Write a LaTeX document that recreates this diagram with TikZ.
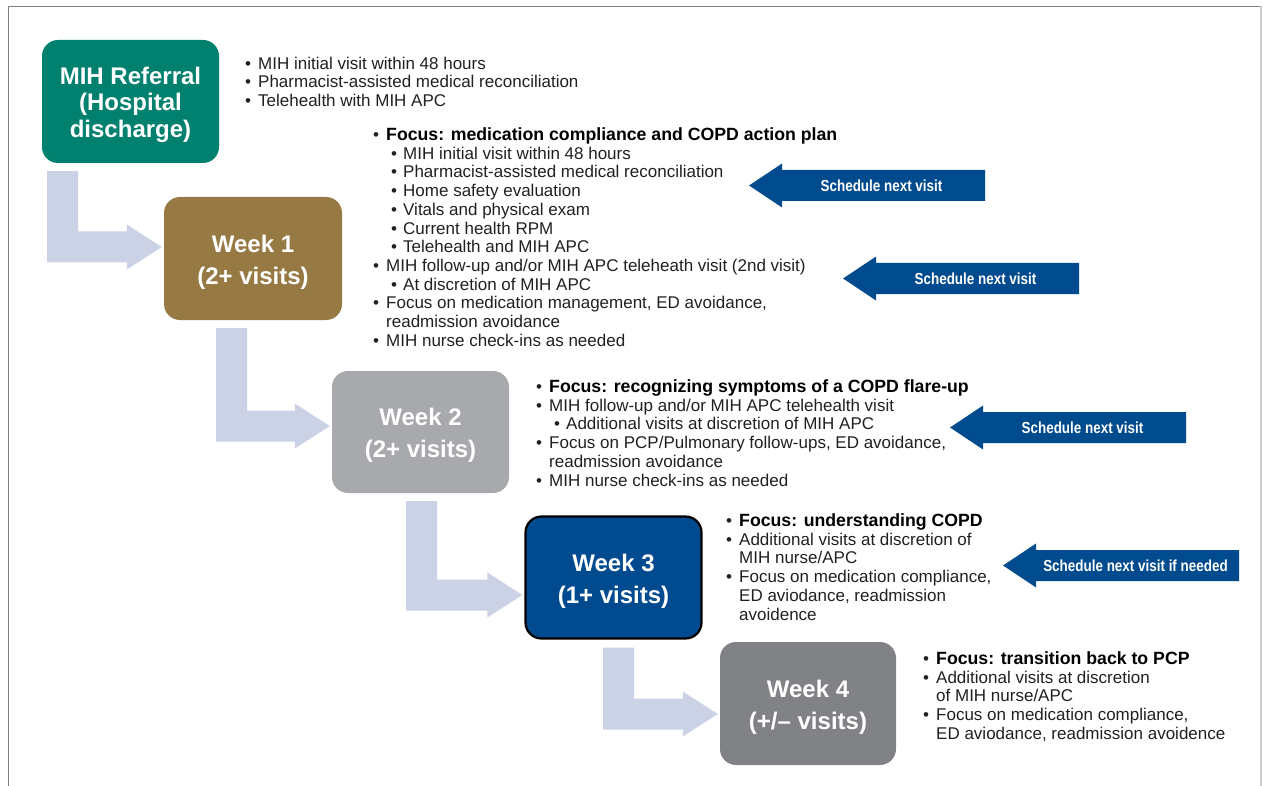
\documentclass[tikz,border=0pt]{standalone}
\usepackage{fontspec}
\setmainfont{Liberation Sans}
\usetikzlibrary{calc}

\definecolor{refteal}{HTML}{00806F}
\definecolor{wkbrown}{HTML}{977A43}
\definecolor{wklight}{HTML}{A7A9AC}
\definecolor{wknavy}{HTML}{004A8F}
\definecolor{wkdark}{HTML}{808285}
\definecolor{flowblue}{HTML}{CBD2E6}
\definecolor{nextblue}{HTML}{004B8D}
\definecolor{bodytext}{HTML}{231F20}

\newcommand{\bul}{\makebox[13pt][l]{\textbullet}}
\newcommand{\subbul}{\hspace*{18pt}\makebox[12pt][l]{\textbullet}}
\newcommand{\ind}{\hspace*{13pt}}
\newcommand{\focus}[1]{\textcolor{black}{\fontsize{17.7}{18.7}\selectfont\bfseries #1}}
\newcommand{\titlestrut}{\rule{0pt}{24pt}}

% L-shaped flow arrow: #1 from box, #2 to box, #3 bar left x, #4 tip y
\newcommand{\flowarrow}[4]{%
  \fill[flowblue] let \p1=(#1.south), \p2=(#2.west), \p3=(#3,#4) in
    (\x3,\y1-8pt) -- (\x3+31pt,\y1-8pt) -- (\x3+31pt,\y3+15.5pt)
    -- (\x2-37pt,\y3+15.5pt) -- (\x2-37pt,\y3+22.5pt) -- (\x2-2pt,\y3)
    -- (\x2-37pt,\y3-22.5pt) -- (\x2-37pt,\y3-15.5pt) -- (\x3,\y3-15.5pt) -- cycle;}

% blue "schedule" arrow: #1 name, #2 body left x, #3 y, #4 text
\newcommand{\nextvisit}[4]{%
  \fill[nextblue] ({#2-33},#3) -- (#2,{#3-22}) -- (#2,{#3-15.5}) -- ({#2+203},{#3-15.5})
    -- ({#2+203},{#3+15.5}) -- (#2,{#3+15.5}) -- (#2,{#3+22}) -- cycle;
  \node[nextlbl] (#1) at ({#2+99.5},#3) {\scalebox{0.84}[1]{#4}};}

\begin{document}
\begin{tikzpicture}[x=1pt, y=-1pt,
    stage/.style={rounded corners=16pt, minimum width=177pt, minimum height=123pt, inner sep=0pt,
      align=center, text=white, font=\fontsize{24}{32}\selectfont\bfseries},
    notes/.style={anchor=north west, inner sep=0pt, align=left, text=bodytext,
      font=\fontsize{17}{18.7}\selectfont},
    nextlbl/.style={inner sep=0pt, text=white, font=\fontsize{16}{16}\selectfont\bfseries}]
  \useasboundingbox (0,0) rectangle (1263,786);

  % 1. frame
  \draw[gray, line width=1.5pt] (8.3,786) -- (8.3,6.5) -- (1261,6.5);
  \draw[gray!40, line width=1.2pt] (1261,6.5) -- (1261,786);

  % 2. stage boxes
  \node[stage, fill=refteal, font=\fontsize{24}{26.5}\selectfont\bfseries] (ref) at (130.5,101.5) {\titlestrut MIH Referral\\(Hospital\\discharge)};
  \node[stage, fill=wkbrown, minimum width=178pt] (wk1) at (253,258.5) {\titlestrut Week 1\\(2+ visits)};
  \node[stage, fill=wklight, minimum height=122pt] (wk2) at (420.5,432) {\titlestrut Week 2\\(2+ visits)};
  \node[stage, fill=wknavy, draw=black, line width=2.2pt, minimum width=176pt, minimum height=122pt] (wk3) at (613.5,577.5) {\titlestrut Week 3\\(1+ visits)};
  \node[stage, fill=wkdark, minimum width=176pt] (wk4) at (808,703.5) {\titlestrut Week 4\\(+/\textendash{} visits)};

  % 3. flow arrows between stages
  \flowarrow{ref}{wk1}{47}{247}
  \flowarrow{wk1}{wk2}{216}{426}
  \flowarrow{wk2}{wk3}{406}{595}
  \flowarrow{wk3}{wk4}{603}{714}

  % 4. notes beside each stage
  \node[notes] (n0) at (245,56.5) {\bul MIH initial visit within 48 hours\\
    \bul Pharmacist-assisted medical reconciliation\\
    \bul Telehealth with MIH APC};
  \node[notes] (n1) at (373,127.5) {\bul\focus{Focus: medication compliance and COPD action plan}\\
    \subbul MIH initial visit within 48 hours\\
    \subbul Pharmacist-assisted medical reconciliation\\
    \subbul Home safety evaluation\\
    \subbul Vitals and physical exam\\
    \subbul Current health RPM\\
    \subbul Telehealth and MIH APC\\
    \bul MIH follow-up and/or MIH APC teleheath visit (2nd visit)\\
    \subbul At discretion of MIH APC\\
    \bul Focus on medication management, ED avoidance,\\
    \ind readmission avoidance\\
    \bul MIH nurse check-ins as needed};
  \node[notes] (n2) at (536,379.5) {\bul\focus{Focus: recognizing symptoms of a COPD flare-up}\\
    \bul MIH follow-up and/or MIH APC telehealth visit\\
    \subbul Additional visits at discretion of MIH APC\\
    \bul Focus on PCP/Pulmonary follow-ups, ED avoidance,\\
    \ind readmission avoidance\\
    \bul MIH nurse check-ins as needed};
  \node[notes] (n3) at (726,513.5) {\bul\focus{Focus: understanding COPD}\\
    \bul Additional visits at discretion of\\
    \ind MIH nurse/APC\\
    \bul Focus on medication compliance,\\
    \ind ED aviodance, readmission\\
    \ind avoidence};
  \node[notes] (n4) at (923,651.5) {\bul\focus{Focus: transition back to PCP}\\
    \bul Additional visits at discretion\\
    \ind of MIH nurse/APC\\
    \bul Focus on medication compliance,\\
    \ind ED aviodance, readmission avoidence};

  % 5. schedule arrows
  \nextvisit{s1}{782}{185.5}{Schedule next visit}
  \nextvisit{s2}{876}{278.5}{Schedule next visit}
  \nextvisit{s3}{983}{427.5}{Schedule next visit}
  \nextvisit{s4}{1036}{565.5}{Schedule next visit if needed}
\end{tikzpicture}
\end{document}
